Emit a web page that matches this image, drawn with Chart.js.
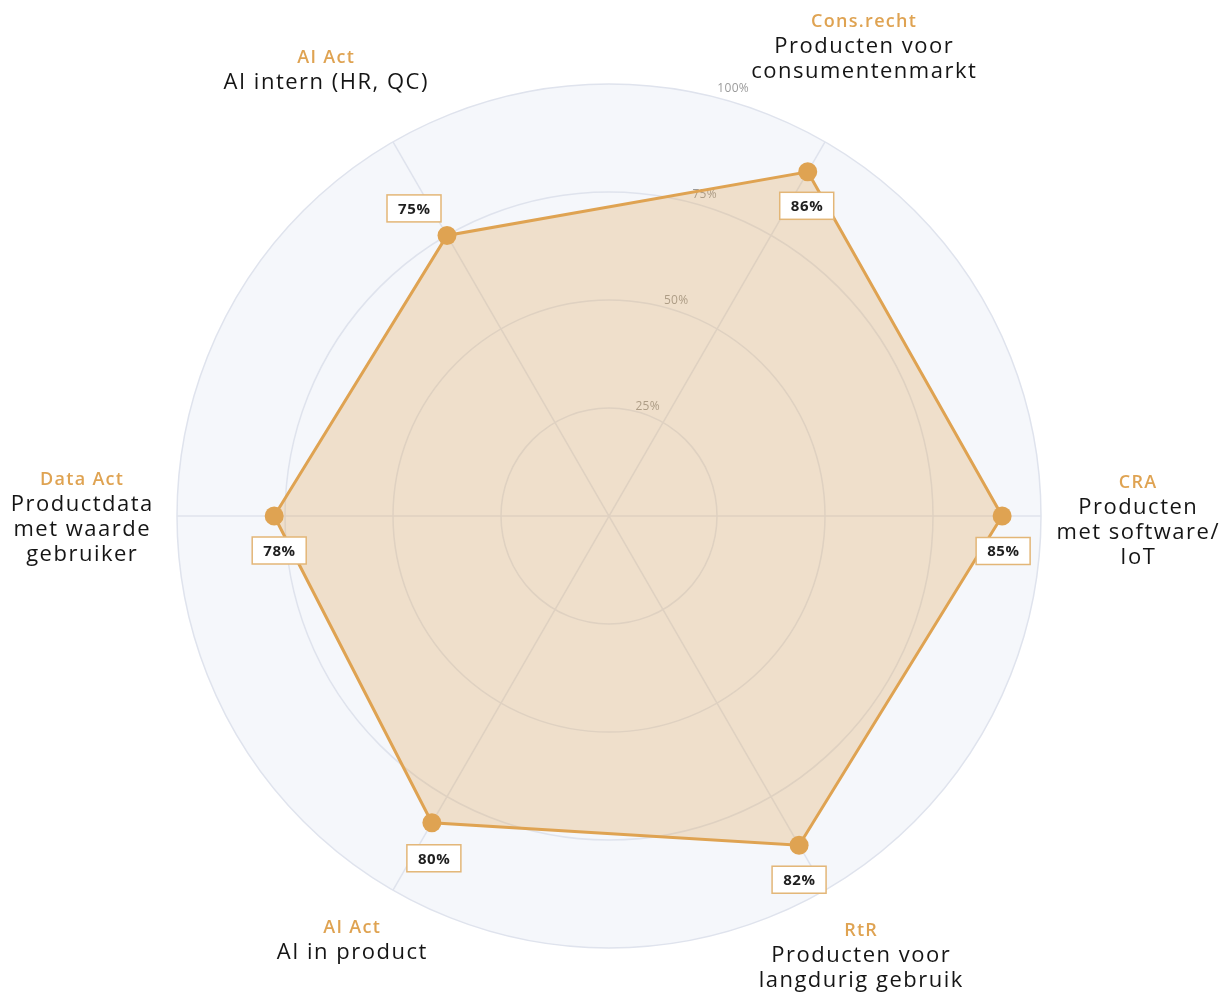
<!DOCTYPE html>
<html>
<head>
<meta charset="utf-8">
<script src="https://cdn.jsdelivr.net/npm/chart.js@4/dist/chart.umd.min.js"></script>
<style>
  html, body { margin: 0; padding: 0; background: #fff; }
  canvas { display: block; }
</style>
</head>
<body>
<canvas id="radar" width="1229" height="997"></canvas>
<script>
// categories: law tag + product group
const tags = ['Cons.recht', 'CRA', 'RtR', 'AI Act', 'Data Act', 'AI Act']
const groups = [
  ['Producten voor', 'consumentenmarkt'],
  ['Producten', 'met software/', 'IoT'],
  ['Producten voor', 'langdurig gebruik'],
  ['AI in product'],
  ['Productdata', 'met waarde', 'gebruiker'],
  ['AI intern (HR, QC)']
]
// where the points sit in the picture
const scores = [92, 91, 88, 82, 77.5, 75]
// percentages printed in the boxes
const printed = [86, 85, 82, 80, 78, 75]
const tickValues = [25, 50, 75, 100]

const ORANGE = '#dfa352'
const FONT = '"Open Sans", "Noto Sans", sans-serif'

// centred text with letter spacing (canvas adds spacing after the last glyph too)
const spaced = (ctx, text, x, y, sp) => {
  ctx.letterSpacing = sp + 'px'
  ctx.fillText(text, x + sp / 2, y)
  ctx.letterSpacing = '0px'
}

const labelsPlugin = {
  id: 'labelsPlugin',
  beforeDatasetsDraw(chart) {
    // tick labels, under the fill
    const scale = chart.scales.r
    const ctx = chart.ctx
    ctx.save()
    ctx.font = '12px ' + FONT
    ctx.fillStyle = '#9b9b9b'
    ctx.textAlign = 'center'
    ctx.textBaseline = 'middle'
    tickValues.forEach(v => {
      const r = scale.getDistanceFromCenterForValue(v)
      spaced(ctx, v + '%', scale.xCenter + 10 + r * 0.264, scale.yCenter - 3.5 - r * 0.982, 0.3)
    })
    ctx.restore()
  },
  afterDatasetsDraw(chart, args, opts) {
    const scale = chart.scales.r
    const ctx = chart.ctx
    const meta = chart.getDatasetMeta(0)
    ctx.save()
    ctx.textAlign = 'center'
    ctx.textBaseline = 'middle'

    // value boxes
    meta.data.forEach((pt, i) => {
      const [dx, dy] = opts.boxOffsets[i]
      const x = pt.x + dx
      const y = pt.y + dy
      const w = 54, h = 27
      ctx.fillStyle = '#fff'
      ctx.fillRect(x - w / 2, y - h / 2, w, h)
      ctx.strokeStyle = '#e3b677'
      ctx.lineWidth = 1.5
      ctx.strokeRect(x - w / 2, y - h / 2, w, h)
      ctx.fillStyle = '#1f1f1f'
      ctx.font = 'bold 15px ' + FONT
      spaced(ctx, printed[i] + '%', x, y + 1, 0.6)
    })

    // category labels
    tags.forEach((tag, i) => {
      const [dx, dy] = opts.labelOffsets[i]
      const x = scale.xCenter + dx
      const y = scale.yCenter + dy
      ctx.fillStyle = ORANGE
      ctx.font = '600 18px ' + FONT
      spaced(ctx, tag, x, y, 1.3)
      ctx.fillStyle = '#151515'
      ctx.font = '22px ' + FONT
      groups[i].forEach((line, k) => {
        spaced(ctx, line, x, y + 25 + k * 25, 1.5)
      })
    })
    ctx.restore()
  }
}

new Chart(document.getElementById('radar'), {
  type: 'radar',
  data: {
    labels: tags,
    datasets: [{
      data: scores,
      borderColor: ORANGE,
      borderWidth: 3,
      backgroundColor: 'rgba(221, 160, 80, 0.28)',
      fill: true,
      pointRadius: 9.5,
      pointHoverRadius: 9.5,
      pointBorderWidth: 0,
      pointBackgroundColor: ORANGE
    }]
  },
  options: {
    responsive: false,
    animation: false,
    devicePixelRatio: 1,
    layout: { padding: { top: 84, bottom: 49, left: 0, right: 11 } },
    plugins: {
      legend: { display: false },
      tooltip: { enabled: false },
      labelsPlugin: {
        boxOffsets: [[-1, 34], [1, 35], [0, 34.5], [2, 35.5], [5, 34.5], [-33, -27]],
        labelOffsets: [[254.5, -494.5], [528.5, -33.5], [251.5, 414.5], [-257.5, 411.5], [-527.5, -36.5], [-283.5, -458.5]]
      }
    },
    scales: {
      r: {
        min: 0,
        max: 100,
        startAngle: 30,
        backgroundColor: '#f5f7fb',
        ticks: { display: false, stepSize: 25 },
        grid: { circular: true, color: '#dfe3ed', lineWidth: 1.5 },
        angleLines: { color: '#dfe3ed', lineWidth: 1.5 },
        pointLabels: { display: false }
      }
    }
  },
  plugins: [labelsPlugin]
})
</script>
</body>
</html>
